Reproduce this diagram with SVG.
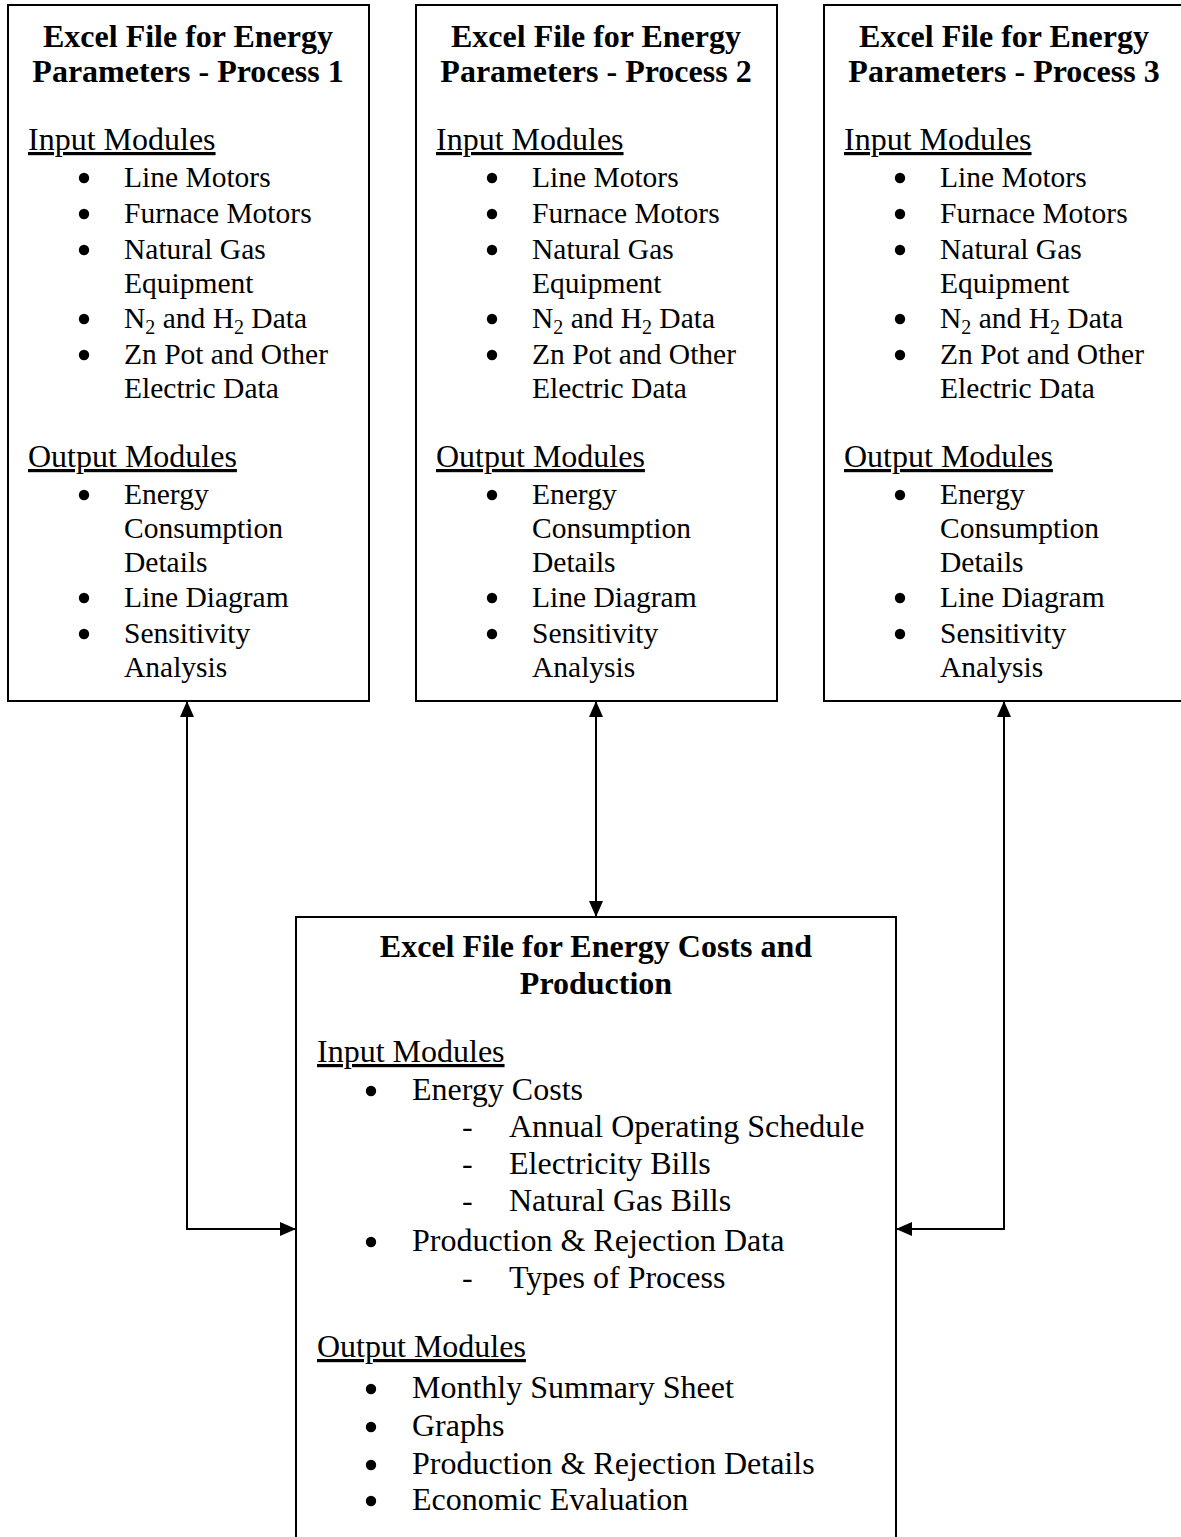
<svg xmlns="http://www.w3.org/2000/svg" width="1181" height="1537" viewBox="0 0 1181 1537">
  <style>
    .box { fill: #ffffff; stroke: #000000; stroke-width: 2; }
    .wire { fill: none; stroke: #000000; stroke-width: 2; }
    .dot { fill: #000000; }
    text { font-family: "Liberation Serif", "Times New Roman", serif; fill: #000000; }
    .t { font-size: 29.5px; }
    .h { font-size: 32px; text-decoration: underline; }
    .ttl { font-size: 32px; font-weight: bold; text-anchor: middle; }
    .b { font-size: 32px; }
    .bttl { font-size: 32px; font-weight: bold; text-anchor: middle; }
    .sub { font-size: 20px; }
  </style>
  <defs>
    <marker id="arrow" viewBox="0 0 16 14" refX="16" refY="7" markerWidth="16" markerHeight="14" markerUnits="userSpaceOnUse" orient="auto-start-reverse">
      <path d="M0,0 L16,7 L0,14 Z" fill="#000000"/>
    </marker>
    <circle id="bullet" class="dot" r="5.2"/>
  </defs>

  <rect width="1181" height="1537" fill="#ffffff"/>

  <!-- Process 1 parameters file -->
  <g id="process1">
    <rect class="box" x="8" y="5" width="361" height="696"/>
    <text class="ttl" x="188" y="47">Excel File for Energy</text>
    <text class="ttl" x="188" y="82">Parameters - Process 1</text>
    <text class="h" x="28" y="150">Input Modules</text>
    <use href="#bullet" x="84" y="178"/><text class="t" x="124" y="187">Line Motors</text>
    <use href="#bullet" x="84" y="214"/><text class="t" x="124" y="223">Furnace Motors</text>
    <use href="#bullet" x="84" y="250"/><text class="t" x="124" y="259">Natural Gas</text>
    <text class="t" x="124" y="293">Equipment</text>
    <use href="#bullet" x="84" y="319"/><text class="t" x="124" y="328">N<tspan class="sub" dy="6">2</tspan><tspan dy="-6"> and H</tspan><tspan class="sub" dy="6">2</tspan><tspan dy="-6"> Data</tspan></text>
    <use href="#bullet" x="84" y="355"/><text class="t" x="124" y="364">Zn Pot and Other</text>
    <text class="t" x="124" y="398">Electric Data</text>
    <text class="h" x="28" y="467">Output Modules</text>
    <use href="#bullet" x="84" y="495"/><text class="t" x="124" y="504">Energy</text>
    <text class="t" x="124" y="538">Consumption</text>
    <text class="t" x="124" y="572">Details</text>
    <use href="#bullet" x="84" y="598"/><text class="t" x="124" y="607">Line Diagram</text>
    <use href="#bullet" x="84" y="634"/><text class="t" x="124" y="643">Sensitivity</text>
    <text class="t" x="124" y="677">Analysis</text>
  </g>

  <!-- Process 2 parameters file -->
  <g id="process2">
    <rect class="box" x="416" y="5" width="361" height="696"/>
    <text class="ttl" x="596" y="47">Excel File for Energy</text>
    <text class="ttl" x="596" y="82">Parameters - Process 2</text>
    <text class="h" x="436" y="150">Input Modules</text>
    <use href="#bullet" x="492" y="178"/><text class="t" x="532" y="187">Line Motors</text>
    <use href="#bullet" x="492" y="214"/><text class="t" x="532" y="223">Furnace Motors</text>
    <use href="#bullet" x="492" y="250"/><text class="t" x="532" y="259">Natural Gas</text>
    <text class="t" x="532" y="293">Equipment</text>
    <use href="#bullet" x="492" y="319"/><text class="t" x="532" y="328">N<tspan class="sub" dy="6">2</tspan><tspan dy="-6"> and H</tspan><tspan class="sub" dy="6">2</tspan><tspan dy="-6"> Data</tspan></text>
    <use href="#bullet" x="492" y="355"/><text class="t" x="532" y="364">Zn Pot and Other</text>
    <text class="t" x="532" y="398">Electric Data</text>
    <text class="h" x="436" y="467">Output Modules</text>
    <use href="#bullet" x="492" y="495"/><text class="t" x="532" y="504">Energy</text>
    <text class="t" x="532" y="538">Consumption</text>
    <text class="t" x="532" y="572">Details</text>
    <use href="#bullet" x="492" y="598"/><text class="t" x="532" y="607">Line Diagram</text>
    <use href="#bullet" x="492" y="634"/><text class="t" x="532" y="643">Sensitivity</text>
    <text class="t" x="532" y="677">Analysis</text>
  </g>

  <!-- Process 3 parameters file -->
  <g id="process3">
    <rect class="box" x="824" y="5" width="370" height="696"/>
    <text class="ttl" x="1004" y="47">Excel File for Energy</text>
    <text class="ttl" x="1004" y="82">Parameters - Process 3</text>
    <text class="h" x="844" y="150">Input Modules</text>
    <use href="#bullet" x="900" y="178"/><text class="t" x="940" y="187">Line Motors</text>
    <use href="#bullet" x="900" y="214"/><text class="t" x="940" y="223">Furnace Motors</text>
    <use href="#bullet" x="900" y="250"/><text class="t" x="940" y="259">Natural Gas</text>
    <text class="t" x="940" y="293">Equipment</text>
    <use href="#bullet" x="900" y="319"/><text class="t" x="940" y="328">N<tspan class="sub" dy="6">2</tspan><tspan dy="-6"> and H</tspan><tspan class="sub" dy="6">2</tspan><tspan dy="-6"> Data</tspan></text>
    <use href="#bullet" x="900" y="355"/><text class="t" x="940" y="364">Zn Pot and Other</text>
    <text class="t" x="940" y="398">Electric Data</text>
    <text class="h" x="844" y="467">Output Modules</text>
    <use href="#bullet" x="900" y="495"/><text class="t" x="940" y="504">Energy</text>
    <text class="t" x="940" y="538">Consumption</text>
    <text class="t" x="940" y="572">Details</text>
    <use href="#bullet" x="900" y="598"/><text class="t" x="940" y="607">Line Diagram</text>
    <use href="#bullet" x="900" y="634"/><text class="t" x="940" y="643">Sensitivity</text>
    <text class="t" x="940" y="677">Analysis</text>
  </g>

  <!-- Costs and production file -->
  <g id="costs">
    <rect class="box" x="296" y="917" width="600" height="640"/>
    <text class="bttl" x="596" y="957">Excel File for Energy Costs and</text>
    <text class="bttl" x="596" y="994">Production</text>
    <text class="h" x="317" y="1062">Input Modules</text>
    <use href="#bullet" x="371" y="1091"/><text class="b" x="412" y="1100">Energy Costs</text>
    <text class="b" x="462" y="1137">-</text><text class="b" x="509" y="1137">Annual Operating Schedule</text>
    <text class="b" x="462" y="1174">-</text><text class="b" x="509" y="1174">Electricity Bills</text>
    <text class="b" x="462" y="1211">-</text><text class="b" x="509" y="1211">Natural Gas Bills</text>
    <use href="#bullet" x="371" y="1242"/><text class="b" x="412" y="1251">Production &amp; Rejection Data</text>
    <text class="b" x="462" y="1288">-</text><text class="b" x="509" y="1288">Types of Process</text>
    <text class="h" x="317" y="1357">Output Modules</text>
    <use href="#bullet" x="371" y="1389"/><text class="b" x="412" y="1398">Monthly Summary Sheet</text>
    <use href="#bullet" x="371" y="1427"/><text class="b" x="412" y="1436">Graphs</text>
    <use href="#bullet" x="371" y="1465"/><text class="b" x="412" y="1474">Production &amp; Rejection Details</text>
    <use href="#bullet" x="371" y="1501"/><text class="b" x="412" y="1510">Economic Evaluation</text>
  </g>

  <!-- Two-way links between the files -->
  <g id="connectors">
    <path class="wire" d="M187,701 V1229 H296" marker-start="url(#arrow)" marker-end="url(#arrow)"/>
    <path class="wire" d="M596,701 V917" marker-start="url(#arrow)" marker-end="url(#arrow)"/>
    <path class="wire" d="M1004,701 V1229 H896" marker-start="url(#arrow)" marker-end="url(#arrow)"/>
  </g>
</svg>
